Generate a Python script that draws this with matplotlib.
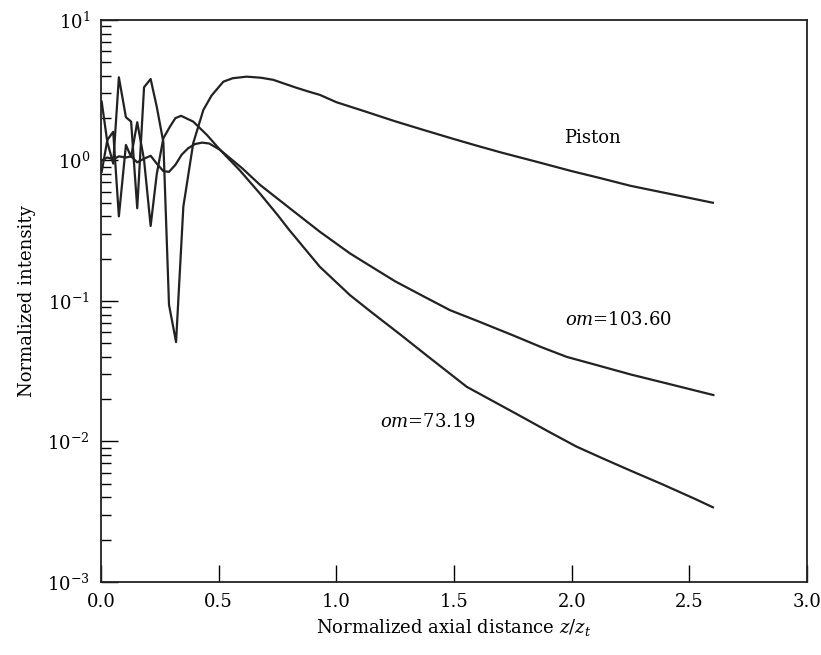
import matplotlib.pyplot as plt
from matplotlib.ticker import LogLocator, NullFormatter

plt.rcParams['font.family'] = ['DejaVu Serif']
plt.rcParams['mathtext.fontset'] = 'dejavuserif'

# Piston on-axis intensity
x_piston = [0.003, 0.027, 0.052, 0.076, 0.106, 0.128, 0.154, 0.183, 0.211, 0.237,
            0.265, 0.289, 0.319, 0.350, 0.392, 0.435, 0.47, 0.520, 0.56, 0.619,
            0.68, 0.732, 0.824, 0.88, 0.930, 1.0, 1.12, 1.25, 1.37, 1.5,
            1.6, 1.7, 1.85, 2.0, 2.12, 2.25, 2.42, 2.6]
y_piston = [2.62, 1.35, 0.95, 3.91, 2.03, 1.89, 0.457, 3.32, 3.80, 2.41,
            1.35, 0.094, 0.051, 0.47, 1.33, 2.29, 2.9, 3.64, 3.85, 3.95,
            3.88, 3.75, 3.32, 3.1, 2.93, 2.6, 2.24, 1.9, 1.65, 1.42,
            1.27, 1.14, 0.98, 0.84, 0.75, 0.66, 0.577, 0.50]

# om = 73.19
x_om73 = [0.003, 0.027, 0.052, 0.076, 0.106, 0.128, 0.154, 0.183, 0.211, 0.237,
          0.265, 0.293, 0.316, 0.340, 0.392, 0.45, 0.506, 0.59, 0.676, 0.75,
          0.8, 0.930, 1.058, 1.15, 1.27, 1.4, 1.554, 1.68, 1.8, 1.9,
          2.02, 2.13, 2.25, 2.38, 2.524, 2.6]
y_om73 = [0.83, 1.40, 1.60, 0.40, 1.29, 1.06, 1.87, 1.01, 0.342, 0.80,
          1.44, 1.74, 2.0, 2.08, 1.89, 1.52, 1.19, 0.85, 0.58, 0.41,
          0.32, 0.175, 0.110, 0.083, 0.058, 0.039, 0.0245, 0.0188, 0.0146, 0.0118,
          0.0092, 0.0076, 0.0062, 0.0050, 0.0039, 0.0034]

# om = 103.60
x_om103 = [0.003, 0.027, 0.052, 0.076, 0.106, 0.128, 0.154, 0.183, 0.211, 0.237,
           0.265, 0.289, 0.316, 0.343, 0.370, 0.400, 0.430, 0.460, 0.506, 0.6,
           0.676, 0.8, 0.930, 1.058, 1.15, 1.25, 1.37, 1.483, 1.6, 1.75,
           1.87, 1.979, 2.1, 2.25, 2.42, 2.602]
y_om103 = [1.0, 1.05, 1.02, 1.07, 1.05, 1.07, 0.97, 1.03, 1.08, 0.95,
           0.84, 0.83, 0.93, 1.10, 1.22, 1.31, 1.34, 1.32, 1.19, 0.88,
           0.67, 0.46, 0.311, 0.218, 0.175, 0.138, 0.108, 0.086, 0.072, 0.057,
           0.047, 0.040, 0.0352, 0.030, 0.0255, 0.0214]

fig = plt.figure(figsize=(8.21, 6.55), dpi=100)
ax = fig.add_axes([0.123, 0.1115, 0.860, 0.858])

line_color = '#222222'
ax.plot(x_piston, y_piston, color=line_color, lw=1.6)
ax.plot(x_om73, y_om73, color=line_color, lw=1.6)
ax.plot(x_om103, y_om103, color=line_color, lw=1.6)

ax.set_yscale('log')
ax.set_xlim(0, 3)
ax.set_ylim(1e-3, 1e1)
ax.set_xticks([0.0, 0.5, 1.0, 1.5, 2.0, 2.5, 3.0])
ax.set_xticklabels(['0.0', '0.5', '1.0', '1.5', '2.0', '2.5', '3.0'])
ax.yaxis.set_major_locator(LogLocator(base=10, numticks=10))
ax.yaxis.set_minor_locator(LogLocator(base=10, subs=range(2, 10), numticks=20))
ax.yaxis.set_minor_formatter(NullFormatter())

ax.tick_params(axis='both', which='major', direction='in', length=12, width=1.0,
               labelsize=13, top=False, right=False, pad=8)
ax.tick_params(axis='y', which='minor', direction='in', length=7, width=1.0, right=False)
for s in ax.spines.values():
    s.set_linewidth(1.3)
    s.set_color('#222222')

ax.set_xlabel('Normalized axial distance $z/z_t$', fontsize=13, labelpad=4)
ax.set_ylabel('Normalized intensity', fontsize=13, labelpad=8)

ax.text(2.09, 1.45, 'Piston', fontsize=13, ha='center', va='center')
ax.text(2.2, 0.073, '$om$=103.60', fontsize=13, ha='center', va='center')
ax.text(1.39, 0.0138, '$om$=73.19', fontsize=13, ha='center', va='center')

plt.savefig('out.png', dpi=100)
